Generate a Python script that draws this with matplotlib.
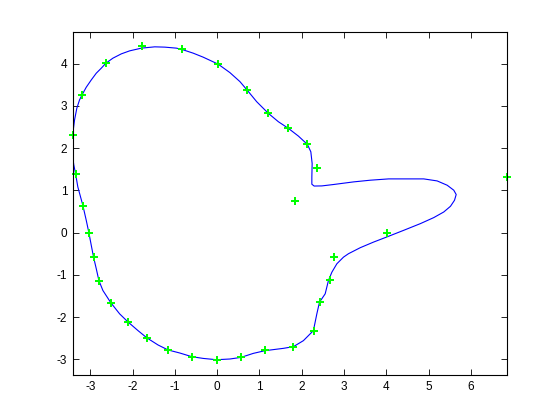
import numpy as np
import matplotlib
matplotlib.use("Agg")
import matplotlib.pyplot as plt

# sample points (green)
px = [-3.415, -3.20, -2.63, -1.78, -0.83, 0.02, 0.71, 1.21, 1.68, 2.13, 2.37,
      1.85, 6.85, 4.01, 2.77, 2.66, 2.42, 2.28, 1.80, 1.14, 0.57, 0.0, -0.59,
      -1.16, -1.66, -2.11, -2.51, -2.80, -2.92, -3.035, -3.18, -3.34]
py = [2.30, 3.25, 4.01, 4.41, 4.34, 3.99, 3.37, 2.82, 2.47, 2.10, 1.54,
      0.74, 1.31, -0.02, -0.57, -1.12, -1.64, -2.33, -2.71, -2.78, -2.94, -3.01, -2.94,
      -2.78, -2.49, -2.11, -1.66, -1.14, -0.57, 0.0, 0.64, 1.39]

# fitted closed curve (blue)
cx = [-3.398, -3.412, -3.415, -3.398, -3.374, -3.320, -3.256, -3.201, -3.097, -2.978,
      -2.860, -2.741, -2.632, -2.466, -2.267, -2.070, -1.793, -1.477, -1.240, -0.963,
      -0.806, -0.569, -0.332, 0.024, 0.301, 0.538, 0.711, 0.934, 1.209, 1.447,
      1.684, 1.921, 2.134, 2.215, 2.246, 2.239, 2.239, 2.293, 2.476, 2.751,
      3.225, 3.621, 4.055, 4.885, 5.203, 5.440, 5.596, 5.653, 5.613, 5.518,
      5.359, 5.122, 4.807, 4.411, 4.008, 3.699, 3.384, 3.106, 2.988, 2.831,
      2.713, 2.632, 2.554, 2.419, 2.357, 2.276, 2.039, 1.802, 1.565, 1.131,
      0.854, 0.562, 0.301, -0.014, -0.332, -0.600, -0.885, -1.162, -1.399, -1.660,
      -1.873, -2.111, -2.307, -2.514, -2.703, -2.798, -2.860, -2.924, -2.978, -3.035,
      -3.097, -3.178, -3.296, -3.351, -3.398]
cy = [1.637, 1.953, 2.309, 2.475, 2.665, 2.943, 3.140, 3.251, 3.441, 3.614,
      3.773, 3.892, 4.010, 4.129, 4.231, 4.302, 4.366, 4.397, 4.390, 4.366,
      4.326, 4.248, 4.153, 3.987, 3.787, 3.574, 3.370, 3.099, 2.824, 2.625,
      2.468, 2.285, 2.088, 1.913, 1.637, 1.319, 1.146, 1.103, 1.106, 1.139,
      1.201, 1.241, 1.272, 1.272, 1.224, 1.122, 1.004, 0.902, 0.766, 0.624,
      0.489, 0.356, 0.214, 0.055, -0.104, -0.223, -0.356, -0.498, -0.579, -0.736,
      -0.935, -1.132, -1.448, -1.647, -1.922, -2.318, -2.556, -2.698, -2.738, -2.793,
      -2.857, -2.952, -2.990, -3.007, -2.976, -2.935, -2.848, -2.776, -2.658, -2.492,
      -2.318, -2.112, -1.922, -1.661, -1.369, -1.132, -0.854, -0.579, -0.301, 0.0,
      0.292, 0.648, 1.082, 1.400, 1.637]

plt.rcParams['font.family'] = ['Liberation Sans', 'DejaVu Sans']
plt.rcParams['axes.unicode_minus'] = False

fig = plt.figure(figsize=(5.6, 4.2), dpi=100)
ax = fig.add_axes([0.13, 0.107, 0.775, 0.817])

ax.plot(cx, cy, color=(0, 0, 1), linewidth=0.8)
ax.plot(px, py, linestyle='none', marker='P', markersize=5.2,
        color=(0, 1, 0), markeredgewidth=0, clip_on=False)

ax.set_xlim(-3.415, 6.85)
ax.set_ylim(-3.37, 4.75)
ax.set_xticks(range(-3, 7))
ax.set_yticks(range(-3, 5))
ax.tick_params(direction='in', top=True, right=True, length=4, width=0.6,
               labelsize=8.5, pad=4)
for s in ax.spines.values():
    s.set_linewidth(0.8)

fig.savefig("out.png", dpi=100)
